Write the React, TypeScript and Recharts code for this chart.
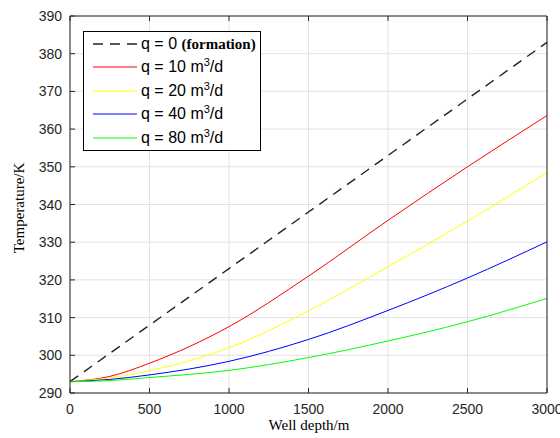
import { LineChart, Line, XAxis, YAxis, CartesianGrid, Legend, Label } from "recharts";

const depths = [0, 250, 500, 1000, 1500, 2000, 2500, 3000];
const formation = [293, 300.5, 308, 323, 338, 353, 368, 383];
const q10 = [293, 294.4, 297.9, 307.6, 321, 335.8, 350, 363.6];
const q20 = [293, 294, 295.9, 302, 311.8, 323.5, 335.6, 348.5];
const q40 = [293, 293.6, 294.8, 298.4, 304.2, 311.9, 320.5, 330.1];
const q80 = [293, 293.3, 294.1, 296, 299.4, 303.8, 308.9, 315.1];

const xTicks = [0, 500, 1000, 1500, 2000, 2500, 3000];
const yTicks = [290, 300, 310, 320, 330, 340, 350, 360, 370, 380, 390];

const SERIES = [
  { key: "q0", color: "#222222", dashed: true, rate: null },
  { key: "q10", color: "#ff0000", dashed: false, rate: "10" },
  { key: "q20", color: "#ffff00", dashed: false, rate: "20" },
  { key: "q40", color: "#0000ff", dashed: false, rate: "40" },
  { key: "q80", color: "#00ff00", dashed: false, rate: "80" },
];

const data = depths.map((d, i) => ({
  depth: d,
  q0: formation[i],
  q10: q10[i],
  q20: q20[i],
  q40: q40[i],
  q80: q80[i],
}));

const AXIS = "#262626";
const SANS = "'Liberation Sans', Arial, sans-serif";
const SERIF = "'Liberation Serif', 'Times New Roman', serif";

function LeftTick({ x, y, payload }: any) {
  return (
    <g>
      <line x1={x + 8} x2={x + 13} y1={y} y2={y} stroke={AXIS} />
      <text x={x} y={y + 5} textAnchor="end" fontSize={14} fontFamily={SANS} fill={AXIS}>
        {payload.value}
      </text>
    </g>
  );
}

function BottomTick({ x, y, payload }: any) {
  return (
    <g>
      <line x1={x} x2={x} y1={y - 8} y2={y - 13} stroke={AXIS} />
      <text x={x} y={y + 13} textAnchor="middle" fontSize={14} fontFamily={SANS} fill={AXIS}>
        {payload.value}
      </text>
    </g>
  );
}

function RightTick({ x, y }: any) {
  return <line x1={x} x2={x - 5} y1={y} y2={y} stroke={AXIS} />;
}

function TopTick({ x, y }: any) {
  return <line x1={x} x2={x} y1={y} y2={y + 5} stroke={AXIS} />;
}

function LegendBox() {
  return (
    <div
      style={{
        width: 176,
        border: "1px solid #000",
        background: "#fff",
        fontFamily: SANS,
        fontSize: 16,
        color: "#000",
      }}
    >
      {SERIES.map((s) => (
        <div key={s.key} style={{ height: 23.5, display: "flex", alignItems: "center" }}>
          <svg width={57} height={10} style={{ flexShrink: 0 }}>
            <line
              x1={9}
              x2={53}
              y1={5}
              y2={5}
              stroke={s.color}
              strokeWidth={s.dashed ? 1.4 : 1}
              strokeDasharray={s.dashed ? "10 7" : undefined}
            />
          </svg>
          {s.rate === null ? (
            <span style={{ whiteSpace: "nowrap" }}>
              q = 0{" "}
              <span style={{ fontFamily: SERIF, fontWeight: "bold", fontSize: 15 }}>(formation)</span>
            </span>
          ) : (
            <span style={{ whiteSpace: "nowrap" }}>
              q = {s.rate} m<sup style={{ fontSize: 11, verticalAlign: "6px", lineHeight: 0 }}>3</sup>/d
            </span>
          )}
        </div>
      ))}
    </div>
  );
}

export default function App() {
  return (
    <div style={{ position: "absolute", left: 0, top: 0, width: 560, height: 438, background: "#fff" }}>
      <LineChart width={560} height={438} data={data} margin={{ top: 0, right: 0, left: 0, bottom: 0 }}>
        <CartesianGrid stroke="#e2e2e2" strokeWidth={1} />
        <XAxis
          dataKey="depth"
          type="number"
          domain={[0, 3000]}
          ticks={xTicks}
          height={45}
          tickSize={0}
          tickMargin={8}
          tickLine={false}
          axisLine={{ stroke: AXIS }}
          tick={<BottomTick />}
          interval={0}
        >
          <Label
            content={() => (
              <text x={309} y={430} textAnchor="middle" fontSize={15} fontFamily={SERIF} fill="#000">
                Well depth/m
              </text>
            )}
          />
        </XAxis>
        <XAxis
          xAxisId="top"
          orientation="top"
          dataKey="depth"
          type="number"
          domain={[0, 3000]}
          ticks={xTicks}
          height={16}
          tickSize={0}
          tickMargin={0}
          tickLine={false}
          axisLine={{ stroke: AXIS }}
          tick={<TopTick />}
          interval={0}
        />
        <YAxis
          type="number"
          domain={[290, 390]}
          ticks={yTicks}
          width={70}
          tickSize={0}
          tickMargin={8}
          tickLine={false}
          axisLine={{ stroke: AXIS }}
          tick={<LeftTick />}
          interval={0}
        >
          <Label
            content={() => (
              <text
                x={24}
                y={208}
                transform="rotate(-90 24 208)"
                textAnchor="middle"
                fontSize={15}
                fontFamily={SERIF}
                fill="#000"
              >
                Temperature/K
              </text>
            )}
          />
        </YAxis>
        <YAxis
          yAxisId="right"
          orientation="right"
          type="number"
          domain={[290, 390]}
          ticks={yTicks}
          width={13}
          tickSize={0}
          tickMargin={0}
          tickLine={false}
          axisLine={{ stroke: AXIS }}
          tick={<RightTick />}
          interval={0}
        />
        <Legend
          layout="horizontal"
          verticalAlign="middle"
          align="center"
          wrapperStyle={{ left: 83, top: 31, width: 178, height: 119 }}
          content={() => <LegendBox />}
        />
        {SERIES.map((s) => (
          <Line
            key={s.key}
            type="monotone"
            dataKey={s.key}
            stroke={s.color}
            strokeWidth={s.dashed ? 1.4 : 1}
            strokeDasharray={s.dashed ? "10 7" : undefined}
            dot={false}
            activeDot={false}
            isAnimationActive={false}
          />
        ))}
      </LineChart>
    </div>
  );
}
